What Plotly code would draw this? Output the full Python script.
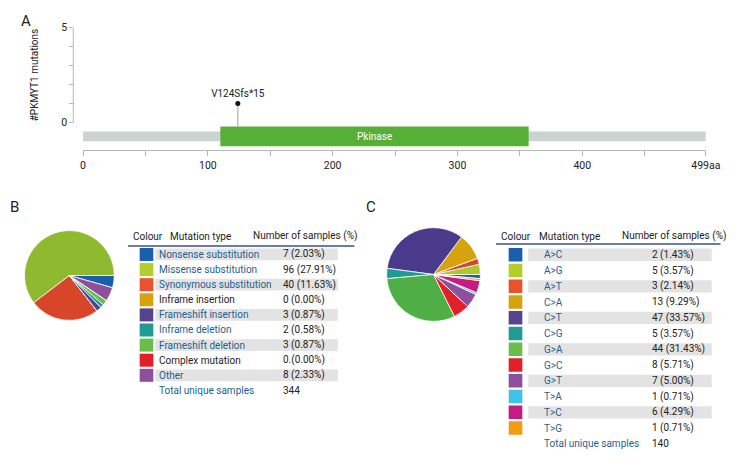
import plotly.graph_objects as go

# ---------------- data ----------------
protein_length = 499
domain_name = "Pkinase"
domain_start = 110
domain_end = 357
mut_positions = [124]
mut_counts = [1]
mut_labels = ["V124Sfs*15"]
x_tickvals = [0, 50, 100, 150, 200, 250, 300, 350, 400, 450, 499]
x_ticktext = ["0", "", "100", "", "200", "", "300", "", "400", "", "499aa"]
y_tickvals = [0, 1, 2, 3, 4, 5]
y_ticktext = ["0", "", "", "", "", "5"]

b_types = ["Nonsense substitution", "Missense substitution", "Synonymous substitution",
           "Inframe insertion", "Frameshift insertion", "Inframe deletion",
           "Frameshift deletion", "Complex mutation", "Other"]
b_counts = [7, 96, 40, 0, 3, 2, 3, 0, 8]
b_labels = ["7 (2.03%)", "96 (27.91%)", "40 (11.63%)", "0 (0.00%)", "3 (0.87%)",
            "2 (0.58%)", "3 (0.87%)", "0.(0.00%)", "8 (2.33%)"]
b_colors = ["#1a5fae", "#b6cc2a", "#e9522a", "#d6a30e", "#56438f", "#1e9b93",
            "#6bbd4b", "#e3202a", "#8e4f9d"]
b_pie_colors = ["#1a5fae", "#8fba2f", "#d8462a", "#d6a30e", "#56438f", "#1e9b93",
                "#6bbd4b", "#e3202a", "#8e4f9d"]
b_total = "344"

c_types = ["A>C", "A>G", "A>T", "C>A", "C>T", "C>G", "G>A", "G>C", "G>T", "T>A", "T>C", "T>G"]
c_counts = [2, 5, 3, 13, 47, 5, 44, 8, 7, 1, 6, 1]
c_labels = ["2 (1.43%)", "5 (3.57%)", "3 (2.14%)", "13 (9.29%)", "47 (33.57%)", "5 (3.57%)",
            "44 (31.43%)", "8 (5.71%)", "7 (5.00%)", "1 (0.71%)", "6 (4.29%)", "1 (0.71%)"]
c_colors = ["#1a5fae", "#b6cc2a", "#e9522a", "#d6a30e", "#56438f", "#1e9b93",
            "#6bbd4b", "#e3202a", "#8e4f9d", "#3fc1ea", "#c41b84", "#f29b14"]
c_pie_colors = ["#1a5fae", "#a9c92d", "#d8462a", "#d6a30e", "#4a3a8c", "#1e9b93",
                "#4fae45", "#e3202a", "#8e4f9d", "#3fc1ea", "#c41b84", "#f29b14"]
c_total = "140"

# ---------------- layout helpers ----------------
W, H = 756, 468
FONT = "Roboto, Liberation Sans, sans-serif"
FS = 10
TXT = "#222222"
LINK = "#1f5f8e"
GREY_AX = "#b4b8b8"

def px(x):
    return x / W

def py(y):
    return 1 - y / H

fig = go.Figure()

# ---------------- panel A: lollipop ----------------
stem_bottom = -0.21
for xp, c in zip(mut_positions, mut_counts):
    fig.add_trace(go.Scatter(x=[xp, xp], y=[stem_bottom, c], mode="lines",
                             line=dict(color="#a9b1b1", width=1.2),
                             hoverinfo="skip", showlegend=False, xaxis="x", yaxis="y"))
fig.add_trace(go.Scatter(x=mut_positions, y=mut_counts, mode="markers+text",
                         marker=dict(color="#111111", size=5),
                         text=mut_labels, textposition="top center",
                         textfont=dict(family=FONT, size=FS, color=TXT),
                         showlegend=False, xaxis="x", yaxis="y", cliponaxis=False))

fig.add_shape(type="rect", xref="x", yref="y", x0=0, x1=protein_length, y0=-0.99, y1=-0.47,
              fillcolor="#cbd3d0", line=dict(width=0), layer="below")
fig.add_shape(type="rect", xref="x", yref="y", x0=domain_start, x1=domain_end, y0=-1.25, y1=-0.21,
              fillcolor="#56b038", line=dict(width=0), layer="below")
fig.add_annotation(x=(domain_start + domain_end) / 2, y=-0.73, xref="x", yref="y",
                   text=domain_name, showarrow=False, xanchor="center", yanchor="middle",
                   font=dict(family=FONT, size=FS, color="white"))
fig.add_shape(type="line", xref="paper", yref="y", x0=px(72), x1=px(72), y0=0, y1=5,
              line=dict(color=GREY_AX, width=1))

fig.update_layout(
    xaxis=dict(domain=[px(82), px(720)], range=[0, protein_length], anchor="y",
               tickvals=x_tickvals, ticktext=x_ticktext, ticks="outside", ticklen=5,
               tickcolor=GREY_AX, showline=True, linecolor=GREY_AX, linewidth=1,
               showgrid=False, zeroline=False,
               tickfont=dict(family=FONT, size=10.5, color=TXT)),
    yaxis=dict(domain=[py(146), py(22)], range=[-1.458, 5], anchor="free", position=px(72),
               tickvals=y_tickvals, ticktext=y_ticktext, ticks="outside", ticklen=4,
               tickcolor=GREY_AX, showline=False, showgrid=False, zeroline=False,
               tickfont=dict(family=FONT, size=10.5, color=TXT)),
)
fig.add_annotation(x=px(32), y=py(70), xref="paper", yref="paper", text="#PKMYT1 mutations",
                   textangle=-90, showarrow=False, xanchor="center", yanchor="middle",
                   font=dict(family=FONT, size=FS, color=TXT))

for letter, lx, ly in [("A", 24, 15.5), ("B", 11.5, 204), ("C", 377, 204)]:
    fig.add_annotation(x=px(lx), y=py(ly), xref="paper", yref="paper", text=letter,
                       showarrow=False, xanchor="center", yanchor="middle",
                       font=dict(family=FONT, size=15, color=TXT))

# ---------------- pies ----------------
def pie_domain(cx, cy, r):
    return dict(x=[px(cx - r), px(cx + r)], y=[py(cy + r), py(cy - r)])

fig.add_trace(go.Pie(values=b_counts, labels=b_types,
                     marker=dict(colors=b_pie_colors, line=dict(color="white", width=0.8)),
                     sort=False, direction="counterclockwise", rotation=90, textinfo="none",
                     domain=pie_domain(68, 273, 46), showlegend=False))
fig.add_trace(go.Pie(values=c_counts, labels=c_types,
                     marker=dict(colors=c_pie_colors, line=dict(color="white", width=0.8)),
                     sort=False, direction="counterclockwise", rotation=90, textinfo="none",
                     domain=pie_domain(441, 272, 48), showlegend=False))

# ---------------- tables ----------------
def table(types, labels, counts, colors, total, yaxis_name, row0, rowstep,
          x_sw, x_band0, x_band1, x_type, x_cnt, hdr, line_x0, line_x1, line_y):
    n = len(types) + 1
    top = row0 - 0.5 * rowstep
    bottom = row0 + (n - 0.5) * rowstep
    fig.layout[yaxis_name.replace("y", "yaxis")] = dict(
        domain=[py(bottom), py(top)], range=[n - 0.5, -0.5], visible=False,
        anchor="free", position=0, showgrid=False, zeroline=False)
    for i, (t, lab, cnt, col) in enumerate(zip(types, labels, counts, colors)):
        if i % 2 == 0:
            fig.add_shape(type="rect", xref="paper", yref=yaxis_name,
                          x0=px(x_band0), x1=px(x_band1), y0=i - 0.39, y1=i + 0.39,
                          fillcolor="#e3e3e3", line=dict(width=0), layer="below")
        fig.add_shape(type="rect", xref="paper", yref=yaxis_name,
                      x0=px(x_sw[0]), x1=px(x_sw[1]), y0=i - 0.43, y1=i + 0.43,
                      fillcolor=col, line=dict(width=0))
        fig.add_annotation(x=px(x_type), y=i, xref="paper", yref=yaxis_name, text=t,
                           xanchor="left", yanchor="middle", showarrow=False,
                           font=dict(family=FONT, size=FS, color=LINK if cnt > 0 else TXT))
        fig.add_annotation(x=px(x_cnt), y=i, xref="paper", yref=yaxis_name, text=lab,
                           xanchor="left", yanchor="middle", showarrow=False,
                           font=dict(family=FONT, size=FS, color=TXT))
    fig.add_annotation(x=px(x_type), y=n - 1, xref="paper", yref=yaxis_name,
                       text="Total unique samples", xanchor="left", yanchor="middle",
                       showarrow=False, font=dict(family=FONT, size=FS, color=LINK))
    fig.add_annotation(x=px(x_cnt), y=n - 1, xref="paper", yref=yaxis_name,
                       text=total, xanchor="left", yanchor="middle", showarrow=False,
                       font=dict(family=FONT, size=FS, color=TXT))
    for txt, hx in hdr:
        fig.add_annotation(x=px(hx), y=py(233), xref="paper", yref="paper", text=txt,
                           xanchor="center", yanchor="middle", showarrow=False,
                           font=dict(family=FONT, size=FS, color=TXT))
    fig.add_shape(type="line", xref="paper", yref="paper", x0=px(line_x0), x1=px(line_x1),
                  y0=py(line_y), y1=py(line_y), line=dict(color="#3d4f8a", width=1.5))

fig.add_trace(go.Scatter(x=[], y=[], xaxis="x", yaxis="y2", showlegend=False))
fig.add_trace(go.Scatter(x=[], y=[], xaxis="x", yaxis="y3", showlegend=False))

table(b_types, b_labels, b_counts, b_colors, b_total, "y2", 251.7, 15.3,
      (140, 154), 156, 343, 158, 285,
      [("Colour", 148.5), ("Mutation type", 202), ("Number of samples (%)", 309)],
      128, 360, 243)
table(c_types, c_labels, c_counts, c_colors, c_total, "y3", 252.0, 15.96,
      (518, 532), 538, 726, 552, 663,
      [("Colour", 526), ("Mutation type", 580), ("Number of samples (%)", 687.5)],
      505, 735, 241)

fig.update_layout(width=W, height=H, autosize=False, margin=dict(l=0, r=0, t=0, b=0),
                  paper_bgcolor="white", plot_bgcolor="rgba(0,0,0,0)", showlegend=False,
                  font=dict(family=FONT, color=TXT))

fig.write_html("out.html", config={"displayModeBar": False, "responsive": False},
               post_script="document.body.style.margin='0';"
                           "document.body.style.overflow='hidden';"
                           "document.documentElement.style.overflow='hidden';")
